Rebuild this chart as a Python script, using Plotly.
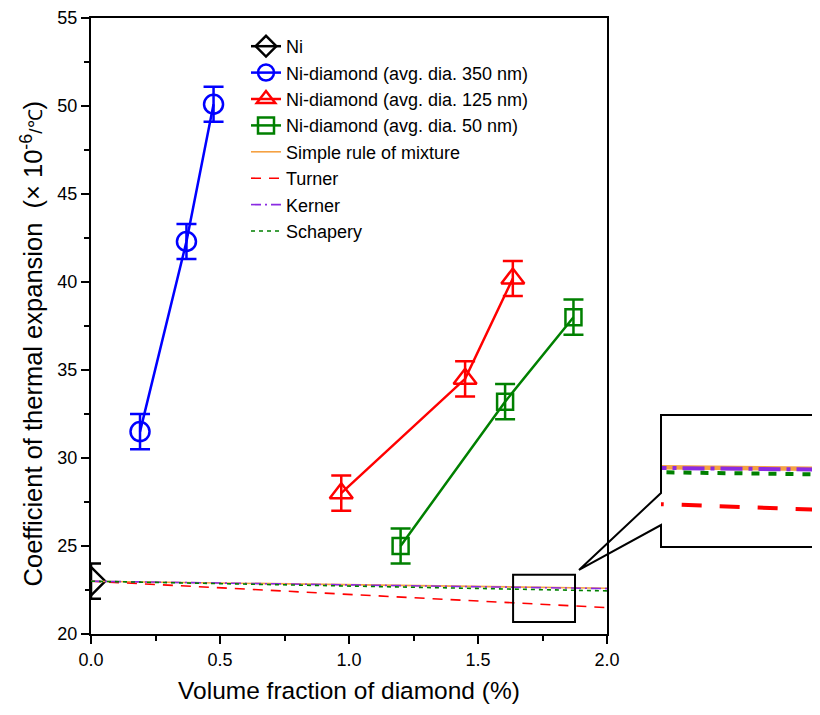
import plotly.graph_objects as go

# ---------------- data ----------------
ni_x = [0.0]
ni_y = [23.0]
ni_err = [1.0]

d350_x = [0.19, 0.37, 0.475]
d350_y = [31.5, 42.3, 50.1]
d350_err = [1.0, 1.0, 1.0]

d125_x = [0.97, 1.45, 1.635]
d125_y = [28.0, 34.5, 40.2]
d125_err = [1.0, 1.0, 1.0]

d50_x = [1.20, 1.605, 1.87]
d50_y = [25.0, 33.2, 38.0]
d50_err = [1.0, 1.0, 1.0]

phi = [0.0, 0.5, 1.0, 1.5, 2.0]
rom = [23.0, 22.9, 22.8, 22.7, 22.6]
turner = [23.0, 22.63, 22.25, 21.88, 21.5]
kerner = [23.0, 22.9, 22.79, 22.69, 22.58]
schapery = [23.0, 22.86, 22.73, 22.59, 22.45]

# zoom rectangle (data coords)
zoom_x = [1.636, 1.876]
zoom_y = [20.68, 23.36]

FONT = "Liberation Sans, Arial, sans-serif"
ORANGE = "#F5A142"
PURPLE = "#8A2BE2"

fig = go.Figure()

def data_trace(name, x, y, err, color, symbol, size):
    fig.add_trace(go.Scatter(
        x=x, y=y, name=name, mode="lines+markers", cliponaxis=True,
        line=dict(color=color, width=2.5),
        marker=dict(symbol=symbol, size=size, color=color,
                    line=dict(color=color, width=2.5)),
        error_y=dict(type="data", array=err, visible=True, color=color,
                     thickness=2.5, width=10),
        xaxis="x", yaxis="y"))

data_trace("Ni", ni_x, ni_y, ni_err, "black", "diamond-open", 22)
data_trace("Ni-diamond (avg. dia. 350 nm)", d350_x, d350_y, d350_err, "#0000FF", "circle-open", 19)
data_trace("Ni-diamond (avg. dia. 125 nm)", d125_x, d125_y, d125_err, "#FF0000", "triangle-up-open", 20)
data_trace("Ni-diamond (avg. dia. 50 nm)", d50_x, d50_y, d50_err, "#008000", "square-open", 16)

models = [
    ("Simple rule of mixture", rom, ORANGE, "solid", "solid"),
    ("Turner", turner, "#FF0000", "10px,8px", "20px,18px"),
    ("Kerner", kerner, PURPLE, "10px,4px,2px,4px", "22px,6px,4px,6px"),
    ("Schapery", schapery, "#008000", "4px,4px", "8px,9px"),
]
for name, vals, col, dash, dash2 in models:
    fig.add_trace(go.Scatter(x=phi, y=vals, name=name, mode="lines", cliponaxis=False,
                             line=dict(color=col, width=1.6, dash=dash),
                             xaxis="x", yaxis="y"))
for name, vals, col, dash, dash2 in models:
    fig.add_trace(go.Scatter(x=phi, y=vals, name=name, mode="lines", showlegend=False,
                             cliponaxis=True,
                             line=dict(color=col, width=4.5 if dash == "solid" else 4, dash=dash2),
                             xaxis="x2", yaxis="y2"))

# page offset (body margin of the page) compensated in the figure size
OFF = 8
W, H = 820 - OFF, 715 - OFF
ML, MR, MT, MB = 91 - OFF, 0, 18 - OFF, 81
PW, PH = W - ML - MR, H - MT - MB

def px(X):
    return (X - OFF - ML) / PW

def py(Y):
    return (H - MB - (Y - OFF)) / PH

# callout outline (paper coords)
pts = [(840, 547), (661, 547), (661, 525), (579, 570), (661, 493), (661, 415), (840, 415)]
path = "M " + " L ".join(f"{px(a):.4f},{py(b):.4f}" for a, b in pts)

NBSP = "&nbsp;" * 5

fig.update_layout(
    width=W, height=H,
    margin=dict(l=ML, r=MR, t=MT, b=MB, pad=0, autoexpand=False),
    paper_bgcolor="white", plot_bgcolor="white",
    font=dict(family=FONT, size=18, color="black"),
    showlegend=True,
    legend=dict(x=px(246), y=py(28), xanchor="left", yanchor="top",
                bgcolor="rgba(0,0,0,0)", font=dict(size=18, family=FONT),
                tracegroupgap=0, itemwidth=30),
    xaxis=dict(domain=[0, px(607)], range=[0, 2.0], dtick=0.5, tickformat=".1f",
               automargin=False,
               showline=True, linecolor="black", linewidth=2, mirror=True,
               ticks="outside", ticklen=8, tickwidth=2, tickcolor="black",
               minor=dict(dtick=0.25, ticks="outside", ticklen=5, tickwidth=2, tickcolor="black"),
               showgrid=False, zeroline=False,
               tickfont=dict(size=18),
               title=dict(text="Volume fraction of diamond (%)", font=dict(size=24.5), standoff=13)),
    yaxis=dict(domain=[0, 1], range=[20, 55], dtick=5,
               automargin=False,
               showline=True, linecolor="black", linewidth=2, mirror=True,
               ticks="outside", ticklen=8, tickwidth=2, tickcolor="black",
               minor=dict(dtick=2.5, ticks="outside", ticklen=5, tickwidth=2, tickcolor="black"),
               showgrid=False, zeroline=False,
               tickfont=dict(size=18),
               title=dict(text="Coefficient of thermal expansion &nbsp;(× 10<sup>-6</sup><span style='font-size:19px'>/℃</span>)" + NBSP,
                          font=dict(size=25.5), standoff=7)),
    xaxis2=dict(domain=[px(661), 1.0], range=[1.655, 1.84], visible=False, anchor="y2"),
    yaxis2=dict(domain=[py(547), py(415)], range=[20.70, 23.96], visible=False, anchor="x2"),
    shapes=[
        dict(type="rect", xref="x", yref="y", x0=zoom_x[0], x1=zoom_x[1], y0=zoom_y[0], y1=zoom_y[1],
             line=dict(color="black", width=2), fillcolor="rgba(0,0,0,0)"),
        dict(type="path", xref="paper", yref="paper", path=path,
             line=dict(color="black", width=2), fillcolor="rgba(0,0,0,0)"),
        # mask left half of the Ni marker (it sits on the axis and is clipped in the original)
        dict(type="rect", xref="paper", yref="y", x0=px(70), x1=px(88.6),
             y0=ni_y[0] - ni_err[0] - 0.4, y1=ni_y[0] + ni_err[0] + 0.4,
             line=dict(width=0), fillcolor="white", layer="above"),
        dict(type="line", xref="paper", yref="y", x0=px(85), x1=px(89.5), y0=22.5, y1=22.5,
             line=dict(color="black", width=2), layer="above"),
    ],
)

fig.write_html("out.html")
